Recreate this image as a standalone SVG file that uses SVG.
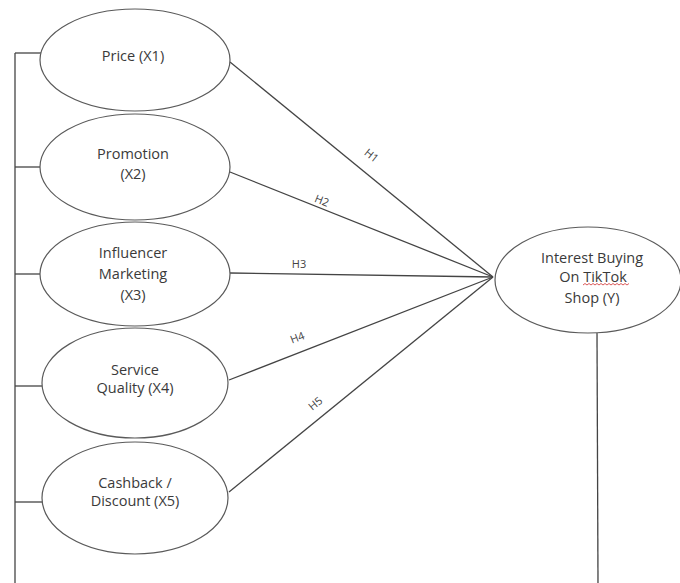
<svg xmlns="http://www.w3.org/2000/svg" width="680" height="583" viewBox="0 0 680 583">
<style>
.node ellipse{fill:#fff;stroke:#5a5a5a;stroke-width:1.2}
.t{font-family:"Open Sans","Liberation Sans",sans-serif;font-size:14.5px;fill:#3a3a3a;text-anchor:middle;dominant-baseline:central}
.lbl{font-family:"Open Sans","Liberation Sans",sans-serif;font-size:11px;fill:#444;text-anchor:middle;dominant-baseline:central}
.c line,.c polyline{stroke:#444;stroke-width:1.3;fill:none}
</style>
<rect width="680" height="583" fill="#fff"/>
<g class="c" id="connectors">
<polyline points="15,583 15,53"/>
<line x1="15" y1="53" x2="41" y2="53"/>
<line x1="15" y1="167" x2="40" y2="167"/>
<line x1="15" y1="274" x2="40" y2="274"/>
<line x1="15" y1="386" x2="42" y2="386"/>
<line x1="15" y1="502" x2="42" y2="502"/>
<line x1="230" y1="62" x2="493" y2="277"/>
<line x1="230" y1="172" x2="493" y2="277"/>
<line x1="230" y1="273" x2="493" y2="277"/>
<line x1="229" y1="380" x2="493" y2="277"/>
<line x1="229" y1="492" x2="493" y2="277"/>
<line x1="597" y1="333" x2="598" y2="583"/>
<text class="lbl" transform="translate(372,155) rotate(39)">H1</text>
<text class="lbl" transform="translate(322,200) rotate(22)">H2</text>
<text class="lbl" x="299" y="263">H3</text>
<text class="lbl" transform="translate(297,337) rotate(-21)">H4</text>
<text class="lbl" transform="translate(315,403) rotate(-39)">H5</text>
</g>
<g class="node" id="x1">
<ellipse cx="135" cy="60" rx="95" ry="51"/>
<text class="t" x="133" y="55">Price (X1)</text>
</g>
<g class="node" id="x2">
<ellipse cx="135" cy="167" rx="95" ry="53"/>
<text class="t" x="133" y="153">Promotion</text>
<text class="t" x="133" y="173">(X2)</text>
</g>
<g class="node" id="x3">
<ellipse cx="135" cy="274" rx="95" ry="52"/>
<text class="t" x="133" y="252">Influencer</text>
<text class="t" x="133" y="273">Marketing</text>
<text class="t" x="133" y="294">(X3)</text>
</g>
<g class="node" id="x4">
<ellipse cx="135" cy="383" rx="93" ry="55"/>
<text class="t" x="135" y="369">Service</text>
<text class="t" x="135" y="387">Quality (X4)</text>
</g>
<g class="node" id="x5">
<ellipse cx="135" cy="498" rx="93" ry="56"/>
<text class="t" x="135" y="482">Cashback /</text>
<text class="t" x="135" y="500">Discount (X5)</text>
</g>
<g class="node" id="y">
<ellipse cx="588" cy="280" rx="93" ry="53"/>
<text class="t" x="592" y="257">Interest Buying</text>
<text class="t" x="593" y="276">On TikTok</text>
<text class="t" x="592" y="297">Shop (Y)</text>
<polyline points="583,285 585,283.5 587,285 589,283.5 591,285 593,283.5 595,285 597,283.5 599,285 601,283.5 603,285 605,283.5 607,285 609,283.5 611,285 613,283.5 615,285 617,283.5 619,285 621,283.5 623,285 625,283.5 627,285 629,283.5" fill="none" stroke="#d03030" stroke-width="0.8"/>
</g>
</svg>
